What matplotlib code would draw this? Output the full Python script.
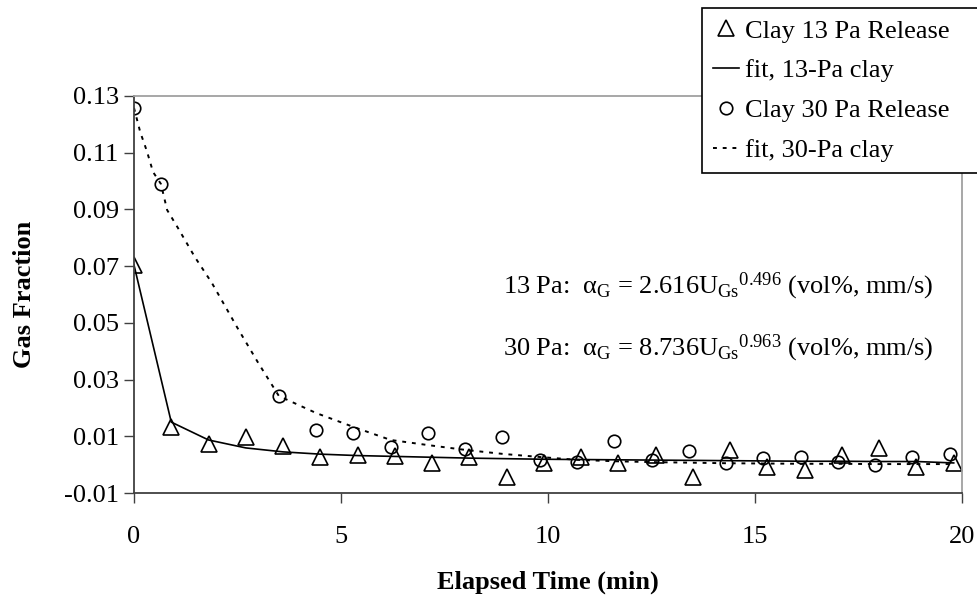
import matplotlib
matplotlib.use("Agg")
import matplotlib.pyplot as plt

plt.rcParams['font.family'] = ['Liberation Serif', 'DejaVu Serif']
plt.rcParams['mathtext.fontset'] = 'custom'
plt.rcParams['mathtext.rm'] = 'Liberation Serif'
plt.rcParams['mathtext.it'] = 'Liberation Serif:italic'
plt.rcParams['mathtext.bf'] = 'Liberation Serif:bold'

# Clay 13 Pa release (triangles)
t13 = [0, 0.9, 1.8, 2.7, 3.6, 4.5, 5.4, 6.3, 7.2, 8.1, 9.0, 9.9, 10.8, 11.7,
       12.6, 13.5, 14.4, 15.3, 16.2, 17.1, 18.0, 18.9, 19.8]
gas13 = [0.0704, 0.0133, 0.0073, 0.0098, 0.0066, 0.0027, 0.0034, 0.0031, 0.0006,
         0.0027, -0.0042, 0.0005, 0.0027, 0.0005, 0.0034, -0.0043, 0.0052,
         -0.0008, -0.0019, 0.0034, 0.0059, -0.0008, 0.0006]
fit13 = [0.0704, 0.0150, 0.0087, 0.0059, 0.0045, 0.0037, 0.0032, 0.0029, 0.0026,
         0.0023, 0.0021, 0.0019, 0.0018, 0.0017, 0.0016, 0.0015, 0.0014,
         0.0013, 0.0012, 0.0012, 0.0011, 0.0011, 0.0006]

# Clay 30 Pa release (circles)
t30 = [0, 0.65, 3.5, 4.4, 5.3, 6.2, 7.1, 8.0, 8.9, 9.8, 10.7, 11.6, 12.5, 13.4,
       14.3, 15.2, 16.1, 17.0, 17.9, 18.8, 19.7]
gas30 = [0.1258, 0.099, 0.0242, 0.0122, 0.0112, 0.0062, 0.0112, 0.0055, 0.0098,
         0.0017, 0.0010, 0.0083, 0.0017, 0.0048, 0.0006, 0.0024, 0.0027, 0.0010,
         -0.0001, 0.0027, 0.0038]

# fit curve for 30 Pa
fit30_t = [0, 0.15, 0.31, 0.46, 0.65, 0.8, 1.06, 1.47, 1.88, 2.5, 3.0, 3.5, 4.4,
           5.3, 6.2, 7.1, 8.0, 8.9, 9.8, 10.7, 11.6, 12.5, 13.4, 14.3, 15.2,
           16.1, 17.0, 17.9, 18.8, 19.7]
fit30 = [0.1258, 0.1173, 0.1106, 0.1032, 0.0990, 0.0898, 0.0835, 0.0732, 0.0641,
         0.0482, 0.0359, 0.0242, 0.0182, 0.0133, 0.0087, 0.0069, 0.0052, 0.0038,
         0.0027, 0.0017, 0.0012, 0.0009, 0.0007, 0.0005, 0.0004, 0.0003, 0.0003,
         0.0002, 0.0002, 0.0002]

yticks = [-0.01, 0.01, 0.03, 0.05, 0.07, 0.09, 0.11, 0.13]
xticks = [0, 5, 10, 15, 20]

fig = plt.figure(figsize=(9.77, 6.02), dpi=100)
ax = fig.add_axes([134 / 977, 1 - 493 / 602, 828 / 977, 397 / 602])

ax.plot(t13, gas13, linestyle='none', marker='^', markersize=11,
        markerfacecolor='none', markeredgecolor='black', markeredgewidth=1.2,
        label='Clay 13 Pa Release')
ax.plot(t13, fit13, color='black', linewidth=1.2, label='fit, 13-Pa clay')
ax.plot(t30, gas30, linestyle='none', marker='o', markersize=9,
        markerfacecolor='none', markeredgecolor='black', markeredgewidth=1.2,
        label='Clay 30 Pa Release')
ax.plot(fit30_t, fit30, color='black', linewidth=1.4, linestyle=(0, (2, 3)),
        label='fit, 30-Pa clay')

ax.set_xlim(0, 20)
ax.set_ylim(-0.01, 0.13)
ax.set_xticks(xticks)
ax.set_yticks(yticks)
ax.set_yticklabels(['%.2f' % v for v in yticks])
ax.tick_params(axis='both', labelsize=19, direction='out', length=7,
               width=1, color='#404040')
ax.tick_params(axis='x', pad=17)
ax.tick_params(axis='y', pad=4)

for side in ['left', 'bottom']:
    ax.spines[side].set_color('#404040')
    ax.spines[side].set_linewidth(1.3)
for side in ['top', 'right']:
    ax.spines[side].set_color('#a0a0a0')
    ax.spines[side].set_linewidth(1.3)

ax.set_xlabel('Elapsed Time (min)', fontsize=19, fontweight='bold', labelpad=16)
ax.set_ylabel('Gas Fraction', fontsize=19, fontweight='bold', labelpad=20)

ax.text(933 / 977, 1 - 293 / 602,
        r'13 Pa:  $\mathrm{α_G}$ = 2.616$\mathrm{U_{Gs}{}^{0.496}}$ (vol%, mm/s)',
        transform=fig.transFigure, fontsize=19, va='baseline', ha='right')
ax.text(933 / 977, 1 - 355 / 602,
        r'30 Pa:  $\mathrm{α_G}$ = 8.736$\mathrm{U_{Gs}{}^{0.963}}$ (vol%, mm/s)',
        transform=fig.transFigure, fontsize=19, va='baseline', ha='right')

leg = fig.legend(loc='upper left',
                 bbox_to_anchor=(702 / 977, 1 - 177 / 602, 0.4, 169 / 602),
                 mode='expand', fontsize=19, frameon=True, fancybox=False,
                 edgecolor='black', framealpha=1, handlelength=1.0,
                 handletextpad=0.2, borderpad=0.42, labelspacing=0.62,
                 borderaxespad=0)
leg.get_frame().set_linewidth(1.2)

fig.savefig('out.png', dpi=100)
